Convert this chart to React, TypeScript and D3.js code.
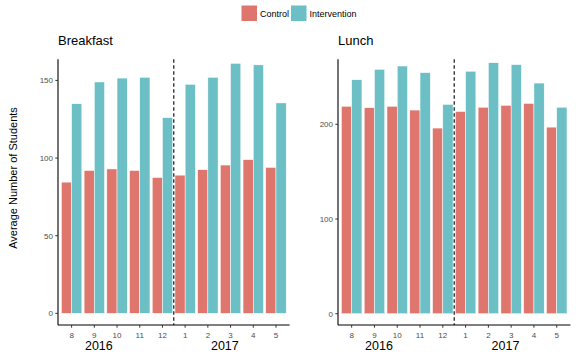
import React, { useRef, useEffect } from "react";
import * as d3 from "d3";

// months shown on the x axis (Aug 2016 .. May 2017)
const months = ["8", "9", "10", "11", "12", "1", "2", "3", "4", "5"];
const groups = ["Control", "Intervention"];
const colors = ["#DF766E", "#6BBFC5"];

const breakfastControl = [84.5, 92, 93, 92, 87.5, 89, 92.5, 95.5, 99, 94];
const breakfastIntervention = [135, 149, 151.5, 152, 126, 147.5, 152, 161, 160, 135.5];
const lunchControl = [219, 217.5, 219, 215, 196, 213.5, 218, 220, 222, 197];
const lunchIntervention = [247, 258, 261.5, 254.5, 221, 256, 265, 263, 243.5, 218];

const breakfastTicks = [0, 50, 100, 150];
const lunchTicks = [0, 100, 200];

// year labels placed along the category index (1 = first month)
const yearLabels = [
    { label: "2016", at: 2.2 },
    { label: "2017", at: 7.75 },
];

const FONT = "'Liberation Sans', Arial, Helvetica, sans-serif";

type Panel = {
    title: string;
    control: number[];
    intervention: number[];
    ticks: number[];
    domain: [number, number];
    x0: number;
    x1: number;
};

export default function App() {
    const svgRef = useRef<SVGSVGElement>(null);

    useEffect(() => {
        const width = 576,
            height = 360;
        const top = 59.3,
            bottom = 325;

        const svg = d3.select(svgRef.current).attr("width", width).attr("height", height);
        svg.selectAll("*").remove();

        const panels: Panel[] = [
            { title: "Breakfast", control: breakfastControl, intervention: breakfastIntervention, ticks: breakfastTicks, domain: [-7.5, 163.6], x0: 58, x1: 289.6 },
            { title: "Lunch", control: lunchControl, intervention: lunchIntervention, ticks: lunchTicks, domain: [-11.9, 268.6], x0: 338, x1: 570.4 },
        ];

        panels.forEach((p) => {
            const g = svg.append("g");
            const idx = months.map((_, i) => String(i));

            const x = d3.scaleBand<string>().domain(idx).range([p.x0, p.x1]).paddingInner(0.1).paddingOuter(0.15);
            const xSub = d3.scaleBand<string>().domain(groups).range([0, x.bandwidth()]);
            const y = d3.scaleLinear().domain(p.domain).range([bottom, top]);
            const catPos = d3
                .scaleLinear()
                .domain([1, months.length])
                .range([x("0")! + x.bandwidth() / 2, x(String(months.length - 1))! + x.bandwidth() / 2]);

            // bars
            const series = [p.control, p.intervention];
            series.forEach((vals, s) => {
                g.selectAll(null)
                    .data(vals)
                    .enter()
                    .append("rect")
                    .attr("x", (_, i) => x(String(i))! + xSub(groups[s])!)
                    .attr("width", xSub.bandwidth())
                    .attr("y", (d) => y(d))
                    .attr("height", (d) => y(0) - y(d))
                    .attr("fill", colors[s])
                    .attr("stroke", "white")
                    .attr("stroke-width", 0.5);
            });

            // dashed divider between 2016 and 2017
            const divX = (x("4")! + x.bandwidth() + x("5")!) / 2;
            g.append("line")
                .attr("x1", divX)
                .attr("x2", divX)
                .attr("y1", top)
                .attr("y2", bottom)
                .attr("stroke", "black")
                .attr("stroke-width", 1.1)
                .attr("stroke-dasharray", "3.5,2.5");

            // axes lines
            g.append("line").attr("x1", p.x0).attr("x2", p.x0).attr("y1", top).attr("y2", bottom).attr("stroke", "black").attr("stroke-width", 1.1);
            g.append("line").attr("x1", p.x0).attr("x2", p.x1).attr("y1", bottom).attr("y2", bottom).attr("stroke", "black").attr("stroke-width", 1.1);

            // y ticks
            p.ticks.forEach((t) => {
                g.append("line").attr("x1", p.x0 - 2.7).attr("x2", p.x0).attr("y1", y(t)).attr("y2", y(t)).attr("stroke", "#333").attr("stroke-width", 1);
                g.append("text")
                    .attr("x", p.x0 - 5)
                    .attr("y", y(t) + 2.9)
                    .attr("text-anchor", "end")
                    .style("font-family", FONT)
                    .style("font-size", "8px")
                    .style("fill", "#4D4D4D")
                    .text(t);
            });

            // x ticks
            months.forEach((m, i) => {
                const cx = x(String(i))! + x.bandwidth() / 2;
                g.append("line").attr("x1", cx).attr("x2", cx).attr("y1", bottom).attr("y2", bottom + 2.7).attr("stroke", "#333").attr("stroke-width", 1);
                g.append("text")
                    .attr("x", cx)
                    .attr("y", 337.5)
                    .attr("text-anchor", "middle")
                    .style("font-family", FONT)
                    .style("font-size", "8px")
                    .style("fill", "#4D4D4D")
                    .text(m);
            });

            // year labels
            yearLabels.forEach((yl) => {
                g.append("text")
                    .attr("x", catPos(yl.at))
                    .attr("y", 350)
                    .attr("text-anchor", "middle")
                    .style("font-family", FONT)
                    .style("font-size", "12.5px")
                    .style("fill", "black")
                    .text(yl.label);
            });

            // title
            g.append("text")
                .attr("x", p.x0)
                .attr("y", 44.5)
                .style("font-family", FONT)
                .style("font-size", "13px")
                .style("fill", "black")
                .text(p.title);
        });

        // y axis label
        svg.append("text")
            .attr("transform", "translate(16.5,178) rotate(-90)")
            .attr("text-anchor", "middle")
            .style("font-family", FONT)
            .style("font-size", "11px")
            .style("fill", "black")
            .text("Average Number of Students");

        // legend
        const legend = svg.append("g");
        const legendX = [241.5, 291];
        const labelX = [260, 309.5];
        groups.forEach((gName, i) => {
            legend.append("rect").attr("x", legendX[i]).attr("y", 5.5).attr("width", 15.5).attr("height", 15.5).attr("fill", colors[i]);
            legend
                .append("text")
                .attr("x", labelX[i])
                .attr("y", 16.5)
                .style("font-family", FONT)
                .style("font-size", "9px")
                .style("fill", "black")
                .text(gName);
        });
    }, []);

    return (
        <div style={{ position: "absolute", left: 0, top: 0 }}>
            <svg ref={svgRef} style={{ display: "block" }}></svg>
        </div>
    );
}
